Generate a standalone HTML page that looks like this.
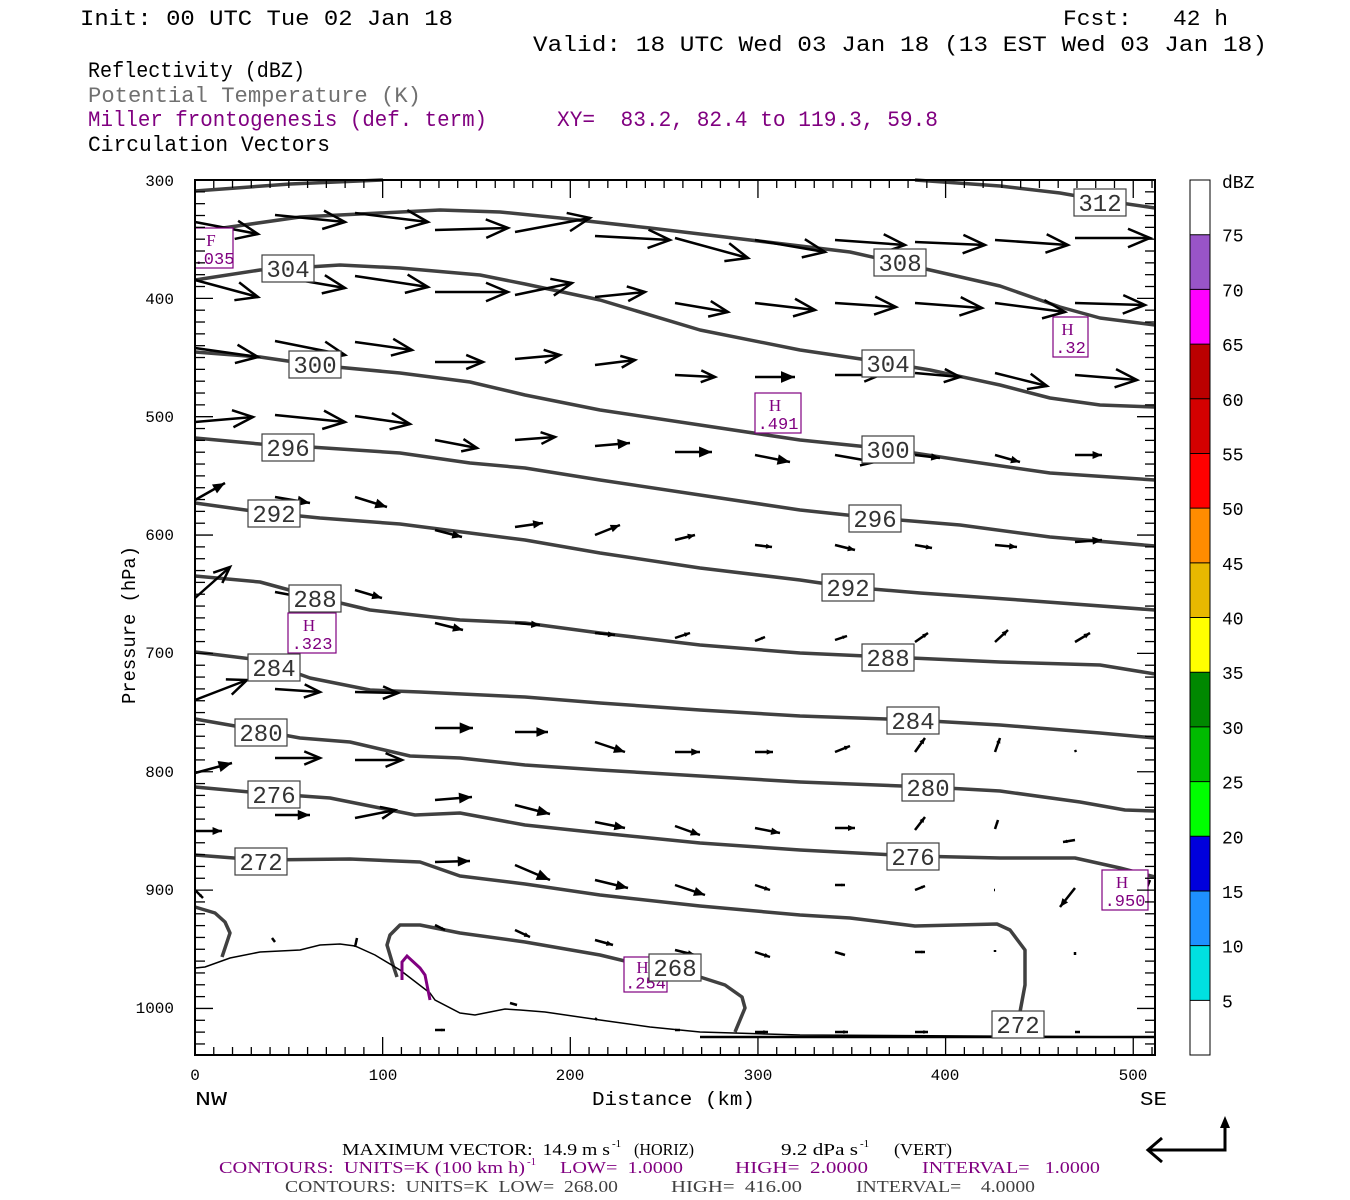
<!DOCTYPE html>
<html><head><meta charset="utf-8"><style>
html,body{margin:0;padding:0;background:#fff;width:1350px;height:1200px;overflow:hidden}
svg{display:block}
text{white-space:pre}
.m{font-family:"Liberation Mono",monospace}
.s{font-family:"Liberation Serif",serif}
</style></head><body>
<svg id="g" width="1350" height="1200" xmlns="http://www.w3.org/2000/svg" xml:space="preserve">
<rect width="1350" height="1200" fill="#fff"/>
<g class="m" font-size="22" fill="#000">
<text x="80" y="25" textLength="373" lengthAdjust="spacingAndGlyphs">Init: 00 UTC Tue 02 Jan 18</text>
<text x="1063" y="25" textLength="165" lengthAdjust="spacingAndGlyphs">Fcst:   42 h</text>
<text x="533" y="51" textLength="734" lengthAdjust="spacingAndGlyphs">Valid: 18 UTC Wed 03 Jan 18 (13 EST Wed 03 Jan 18)</text>
<text x="88" y="77" textLength="217" lengthAdjust="spacingAndGlyphs">Reflectivity (dBZ)</text>
<text x="88" y="102" fill="#707070" textLength="333" lengthAdjust="spacingAndGlyphs">Potential Temperature (K)</text>
<text x="88" y="126" fill="#800080" textLength="399" lengthAdjust="spacingAndGlyphs">Miller frontogenesis (def. term)</text>
<text x="557" y="126" fill="#800080" textLength="381" lengthAdjust="spacingAndGlyphs">XY=  83.2, 82.4 to 119.3, 59.8</text>
<text x="88" y="151" textLength="242" lengthAdjust="spacingAndGlyphs">Circulation Vectors</text>
</g>
<g id="cb"></g>
<g fill="none" stroke="#404040" stroke-width="3.5" stroke-linejoin="round" id="th"></g>
<polyline fill="none" stroke="#000" stroke-width="1.5" points="195,968 205,967 230,958 260,952 300,950 320,945 340,944 355,946 375,955 400,970 430,993 435,1000 460,1013 475,1015 490,1012 505,1009 520,1010 545,1012 600,1020 650,1027 700,1032 800,1035 1155,1037"/>
<line x1="700" y1="1037" x2="1155" y2="1037" stroke="#000" stroke-width="2.5"/>
<polyline fill="none" stroke="#800080" stroke-width="3" points="402,980 402,962 407,956 420,968 425,975 428,990 430,1000"/>
<g id="vec" stroke="#000" stroke-width="2.5" fill="none" stroke-linecap="butt"></g>
<g id="lab"></g>
<rect x="195" y="180" width="960" height="875" fill="none" stroke="#000" stroke-width="2"/>
<g id="tk" stroke="#000" stroke-width="1.3"></g>
<g class="m" font-size="16" fill="#000" text-anchor="end">
<text x="174" y="186">300</text><text x="174" y="304">400</text><text x="174" y="422">500</text><text x="174" y="540">600</text><text x="174" y="658">700</text><text x="174" y="777">800</text><text x="174" y="895">900</text><text x="174" y="1013">1000</text>
</g>
<g class="m" font-size="16" fill="#000" text-anchor="middle">
<text x="195" y="1080">0</text><text x="383" y="1080">100</text><text x="570" y="1080">200</text><text x="758" y="1080">300</text><text x="945" y="1080">400</text><text x="1133" y="1080">500</text>
</g>
<g class="m" font-size="19" fill="#000">
<text x="195" y="1105" textLength="32" lengthAdjust="spacingAndGlyphs">NW</text>
<text x="1140" y="1105" textLength="27" lengthAdjust="spacingAndGlyphs">SE</text>
<text x="592" y="1105" textLength="163" lengthAdjust="spacingAndGlyphs">Distance (km)</text>
<text transform="translate(135,704) rotate(-90)" textLength="158" lengthAdjust="spacingAndGlyphs">Pressure (hPa)</text>
</g>
<g class="s" font-size="17">
<text x="342" y="1155" textLength="268" lengthAdjust="spacingAndGlyphs">MAXIMUM VECTOR:  14.9 m s</text>
<text x="612" y="1147" font-size="11">-1</text>
<text x="634" y="1155" textLength="60" lengthAdjust="spacingAndGlyphs">(HORIZ)</text>
<text x="781" y="1155" textLength="77" lengthAdjust="spacingAndGlyphs">9.2 dPa s</text>
<text x="860" y="1147" font-size="11">-1</text>
<text x="894" y="1155" textLength="58" lengthAdjust="spacingAndGlyphs">(VERT)</text>
<g fill="#800080">
<text x="219" y="1173" textLength="306" lengthAdjust="spacingAndGlyphs">CONTOURS:  UNITS=K (100 km h)</text>
<text x="527" y="1165" font-size="11">-1</text>
<text x="560" y="1173" textLength="123" lengthAdjust="spacingAndGlyphs">LOW=  1.0000</text>
<text x="735" y="1173" textLength="133" lengthAdjust="spacingAndGlyphs">HIGH=  2.0000</text>
<text x="922" y="1173" textLength="178" lengthAdjust="spacingAndGlyphs">INTERVAL=   1.0000</text>
</g>
<g fill="#404040">
<text x="285" y="1192" textLength="333" lengthAdjust="spacingAndGlyphs">CONTOURS:  UNITS=K  LOW=  268.00</text>
<text x="671" y="1192" textLength="131" lengthAdjust="spacingAndGlyphs">HIGH=  416.00</text>
<text x="856" y="1192" textLength="179" lengthAdjust="spacingAndGlyphs">INTERVAL=    4.0000</text>
</g>
</g>
<g stroke="#000" stroke-width="3" fill="none">
<polyline points="1150,1150 1225,1150 1225,1122"/>
<polyline points="1162,1138 1148,1150 1162,1162"/>
</g>
<polygon points="1225,1116 1220,1128 1230,1128" fill="#000"/>
</svg>
<script>
const NS="http://www.w3.org/2000/svg";
function el(p,t,a,txt){const e=document.createElementNS(NS,t);for(const k in a)e.setAttribute(k,a[k]);if(txt!=null)e.textContent=txt;p.appendChild(e);return e;}
const cb=document.getElementById('cb');
const cols=["#ffffff","#9954c8","#ff00ff","#bb0000","#d40000","#ff0000","#ff8c00","#e8b800","#ffff00","#008800","#00bb00","#00ff00","#0000dd","#1e90ff","#00e0e0","#ffffff"];
const h=875/16;
cols.forEach((c,i)=>el(cb,'rect',{x:1190,y:180+i*h,width:20,height:h,fill:c}));
el(cb,'rect',{x:1190,y:180,width:20,height:875,fill:'none',stroke:'#000','stroke-width':1});
for(let i=1;i<16;i++)el(cb,'line',{x1:1190,x2:1210,y1:180+i*h,y2:180+i*h,stroke:'#000','stroke-width':1});
const lv=[75,70,65,60,55,50,45,40,35,30,25,20,15,10,5];
lv.forEach((v,i)=>el(cb,'text',{x:1222,y:180+(i+1)*h+7,'font-family':'Liberation Mono, monospace','font-size':18},String(v)));
el(cb,'text',{x:1222,y:188,'font-family':'Liberation Mono, monospace','font-size':18},'dBZ');
const th=document.getElementById('th');
const lines=[
"195,191 290,184 383,180",
"915,180 1000,186 1060,193 1100,200 1155,208",
"195,232 300,217 440,210 500,212 560,218 650,228 750,240 850,252 930,270 1000,286 1060,307 1100,318 1155,325",
"195,280 260,270 340,265 400,268 480,275 525,284 600,300 700,330 800,350 888,363 930,370 1000,385 1050,398 1100,405 1155,407",
"195,352 260,357 315,365 400,373 470,382 525,395 600,410 700,425 800,440 888,449 960,460 1050,473 1155,480",
"195,438 260,444 310,447 400,453 470,463 525,468 600,480 700,495 800,510 875,518 960,525 1050,537 1155,546",
"195,503 260,512 320,518 400,524 470,533 525,540 600,553 700,568 800,580 848,587 920,593 1020,600 1155,610",
"195,576 260,582 315,597 370,610 460,620 525,623 600,633 700,645 800,653 888,657 1000,662 1100,665 1155,674",
"195,652 260,660 310,678 370,690 420,692 525,697 600,703 700,710 800,716 913,720 1000,725 1100,733 1155,738",
"195,719 235,726 300,738 350,742 410,756 460,758 525,765 600,770 700,776 800,782 928,787 1000,791 1080,802 1125,810 1155,811",
"195,787 260,793 330,798 380,808 415,815 460,813 525,825 600,833 700,843 800,850 913,856 1000,858 1075,858 1120,868 1155,877",
"195,855 260,860 350,859 420,862 460,876 525,884 600,895 700,906 800,915 850,918 915,926 997,924 1010,930 1025,950 1025,985 1020,1012",
"195,907 215,913 225,922 230,933 222,957",
"397,977 393,965 387,945 390,935 400,925 420,925 460,933 525,942 600,955 650,967 700,977 725,985 742,997 745,1008 735,1032"
];
lines.forEach(p=>el(th,'polyline',{points:p}));
const lab=document.getElementById('lab');
const H=[["H",".32",1053,317,35,40],["H",".491",755,393,46,40],["H",".323",288,613,48,40],["H",".950",1102,870,46,40],["H",".254",624,957,43,35],["F",".035",195,228,38,40]];
H.forEach(([a,b,x,y,w,hh])=>{el(lab,'rect',{x:x,y:y,width:w,height:hh,fill:'#fff',stroke:'#800080','stroke-width':1.2});
el(lab,'text',{x:x+w/2-3,y:y+hh*0.45,'text-anchor':'middle','font-family':'Liberation Serif, serif','font-size':17,fill:'#800080'},a);
el(lab,'text',{x:x+w/2,y:y+hh*0.9,'text-anchor':'middle','font-family':'Liberation Mono, monospace','font-size':17,fill:'#800080'},b);});
const L=[[312,1100,202],[308,900,262],[304,288,268],[304,888,363],[300,315,364],[300,888,449],[296,288,447],[296,875,518],[292,274,513],[292,848,587],[288,315,598],[288,888,657],[284,274,667],[284,913,720],[280,261,732],[280,928,787],[276,274,794],[276,913,856],[272,261,861],[268,675,967],[272,1018,1024]];
L.forEach(([v,x,y])=>{el(lab,'rect',{x:x-26,y:y-13,width:52,height:27,fill:'#fff',stroke:'#404040','stroke-width':1.2});
el(lab,'text',{x:x,y:y+9,'text-anchor':'middle','font-family':'Liberation Mono, monospace','font-size':24,fill:'#333'},String(v));});
const V=[
[195,222,258,234],[275,215,345,222],[355,213,428,222],[435,230,508,228],[515,232,590,218],[595,236,670,240],[675,238,748,258],[755,240,825,252],[835,240,905,245],[915,242,985,245],[995,240,1068,245],[1075,238,1150,238],
[195,280,258,297],[275,276,345,288],[355,276,428,287],[435,292,508,292],[515,295,572,283],[595,297,645,292],[675,303,728,312],[755,303,815,310],[835,303,896,307],[915,303,982,308],[995,303,1065,312],[1075,303,1145,305],
[195,348,258,357],[275,341,345,355],[355,342,412,350],[435,362,483,362],[515,359,560,355],[595,365,635,360],[675,375,715,377],[755,377,795,377],[835,375,880,375],[915,373,960,377],[995,373,1047,386],[1075,375,1137,380],
[195,422,253,417],[275,415,345,422],[355,416,410,424],[435,440,477,448],[515,440,555,437],[595,446,630,443],[675,452,712,452],[755,455,790,462],[835,455,875,462],[915,455,940,458],[995,455,1020,462],[1075,455,1102,455],
[195,500,225,483],[275,497,310,503],[355,497,387,507],[435,530,462,537],[515,527,543,523],[595,535,620,525],[675,540,695,535],[755,545,772,547],[835,545,855,550],[915,545,932,548],[995,545,1017,547],[1075,542,1102,540],
[195,598,230,567],[275,592,307,598],[355,590,382,598],[435,623,463,630],[515,623,540,625],[595,633,615,635],[675,638,690,633],[755,641,765,637],[835,640,847,636],[915,642,928,633],[995,642,1008,630],[1075,642,1090,633],
[195,700,247,680],[275,689,320,692],[355,692,398,693],[435,728,473,728],[515,732,548,732],[595,742,625,752],[675,752,700,752],[755,752,773,752],[835,752,850,746],[915,752,925,738],[995,752,1000,738],[1075,750,1076,752],
[195,773,232,763],[275,758,320,758],[355,760,402,760],[435,800,472,797],[515,805,550,814],[595,822,625,828],[675,826,700,835],[755,828,780,833],[835,828,855,828],[915,830,925,817],[995,829,998,820],[1075,840,1063,842],
[195,831,222,831],[275,815,310,815],[355,818,395,810],[435,862,470,861],[515,865,550,880],[595,880,628,888],[675,885,705,895],[755,885,770,890],[835,885,845,885],[915,890,925,886],[995,890,994,890],[1075,888,1060,907],
[195,890,203,898],[275,942,272,938],[355,947,357,938],[435,925,445,930],[515,930,530,937],[595,940,613,945],[675,950,695,955],[755,952,770,957],[835,952,845,955],[915,952,925,952],[995,952,995,950],[1075,952,1075,955],[1150,880,1140,905],
[435,1030,445,1030],[510,1003,517,1005],[595,1018,597,1020],[675,1030,680,1030],[755,1032,768,1032],[835,1032,848,1032],[915,1032,928,1032],[995,1032,1003,1032],[1075,1032,1080,1032]
];
const vg=document.getElementById('vec');
V.forEach(([x1,y1,x2,y2])=>{const dx=x2-x1,dy=y2-y1,len=Math.hypot(dx,dy);if(len<1){el(vg,'circle',{cx:x1,cy:y1,r:2,fill:'#000',stroke:'none'});return;}
el(vg,'line',{x1,y1,x2,y2});const ux=dx/len,uy=dy/len,hl=Math.min(22,len*0.35),hw=hl*0.42;
const bx=x2-ux*hl,by=y2-uy*hl;
if(len>40){el(vg,'polyline',{points:`${bx-uy*hw},${by+ux*hw} ${x2},${y2} ${bx+uy*hw},${by-ux*hw}`});}
else{el(vg,'polygon',{points:`${bx-uy*hw},${by+ux*hw} ${x2},${y2} ${bx+uy*hw},${by-ux*hw}`,fill:'#000',stroke:'none'});}});
const tk=document.getElementById('tk');
for(let k=0;k<=51;k++){const x=195+k*18.765;if(x>1155)break;const big=k%10==0;const l=big?18:8;
el(tk,'line',{x1:x,x2:x,y1:1055,y2:1055-l});el(tk,'line',{x1:x,x2:x,y1:180,y2:180+l});}
for(let p=300;p<=1040;p+=10){const y=180+(p-300)*1.1835;if(y>1055)break;const big=p%100==0;const l=big?18:10;
el(tk,'line',{x1:195,x2:195+l,y1:y,y2:y});el(tk,'line',{x1:1155,x2:1155-l,y1:y,y2:y});}
</script>
</body></html>
